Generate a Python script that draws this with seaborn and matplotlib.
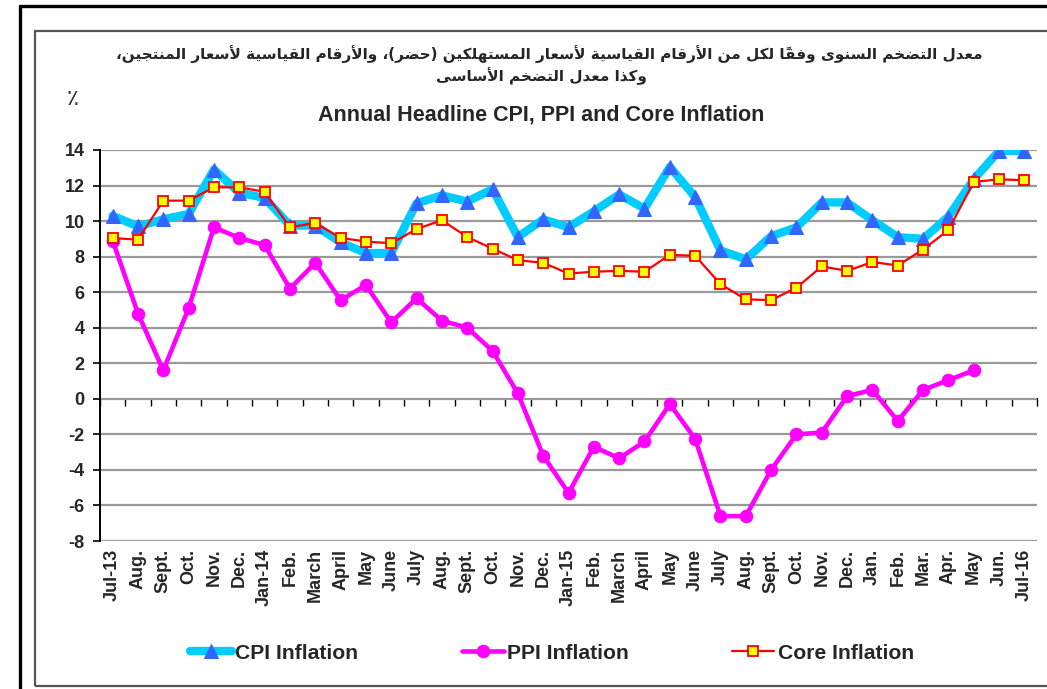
import numpy as np
import pandas as pd
import matplotlib
matplotlib.use('Agg')
import matplotlib.pyplot as plt
import seaborn as sns
from matplotlib.lines import Line2D
from matplotlib.patches import Rectangle

# chart data
months = ['Jul-13', 'Aug.', 'Sept.', 'Oct.', 'Nov.', 'Dec.', 'Jan-14', 'Feb.', 'March', 'April',
          'May', 'June', 'July', 'Aug.', 'Sept.', 'Oct.', 'Nov.', 'Dec.', 'Jan-15', 'Feb.',
          'March', 'April', 'May', 'June', 'July', 'Aug.', 'Sept.', 'Oct.', 'Nov.', 'Dec.',
          'Jan.', 'Feb.', 'Mar.', 'Apr.', 'May', 'Jun.', 'Jul-16']
cpi = [10.3, 9.7, 10.1, 10.4, 12.9, 11.6, 11.3, 9.75, 9.75, 8.8, 8.2, 8.2, 11.0, 11.45, 11.1,
       11.8, 9.1, 10.1, 9.65, 10.55, 11.5, 10.7, 13.05, 11.35, 8.35, 7.85, 9.15, 9.65, 11.05,
       11.05, 10.05, 9.1, 9.0, 10.25, 12.35, 13.95, 13.95]
ppi = [8.9, 4.8, 1.6, 5.1, 9.65, 9.05, 8.65, 6.2, 7.65, 5.55, 6.4, 4.3, 5.65, 4.4, 4.0, 2.7,
       0.3, -3.2, -5.3, -2.7, -3.35, -2.4, -0.3, -2.25, -6.6, -6.6, -4.0, -2.0, -1.9, 0.15,
       0.5, -1.25, 0.5, 1.05, 1.6, np.nan, np.nan]
core = [9.05, 8.95, 11.15, 11.15, 11.9, 11.9, 11.65, 9.65, 9.9, 9.05, 8.85, 8.75, 9.55, 10.05,
        9.1, 8.45, 7.8, 7.65, 7.05, 7.15, 7.2, 7.15, 8.1, 8.05, 6.45, 5.6, 5.55, 6.25, 7.45,
        7.2, 7.7, 7.5, 8.4, 9.5, 12.2, 12.35, 12.3]
yticks = [-8, -6, -4, -2, 0, 2, 4, 6, 8, 10, 12, 14]

title_ar_1 = 'معدل التضخم السنوى وفقاً لكل من الأرقام القياسية لأسعار المستهلكين (حضر)، والأرقام القياسية لأسعار المنتجين،'
title_ar_2 = 'وكذا معدل التضخم الأساسى'
title_en = 'Annual Headline CPI, PPI and Core Inflation'

# --- minimal Arabic shaping (matplotlib does no joining / bidi) ---
FORMS = {  # isolated, final, (initial, medial)
    'ا': (0xFE8D, 0xFE8E), 'أ': (0xFE83, 0xFE84), 'ة': (0xFE93, 0xFE94),
    'د': (0xFEA9, 0xFEAA), 'ذ': (0xFEAB, 0xFEAC), 'ر': (0xFEAD, 0xFEAE),
    'و': (0xFEED, 0xFEEE), 'ى': (0xFEEF, 0xFEF0),
    'ت': (0xFE95, 0xFE96, 0xFE97, 0xFE98), 'ج': (0xFE9D, 0xFE9E, 0xFE9F, 0xFEA0),
    'ح': (0xFEA1, 0xFEA2, 0xFEA3, 0xFEA4), 'خ': (0xFEA5, 0xFEA6, 0xFEA7, 0xFEA8),
    'س': (0xFEB1, 0xFEB2, 0xFEB3, 0xFEB4), 'ض': (0xFEBD, 0xFEBE, 0xFEBF, 0xFEC0),
    'ع': (0xFEC9, 0xFECA, 0xFECB, 0xFECC), 'ف': (0xFED1, 0xFED2, 0xFED3, 0xFED4),
    'ق': (0xFED5, 0xFED6, 0xFED7, 0xFED8), 'ك': (0xFED9, 0xFEDA, 0xFEDB, 0xFEDC),
    'ل': (0xFEDD, 0xFEDE, 0xFEDF, 0xFEE0), 'م': (0xFEE1, 0xFEE2, 0xFEE3, 0xFEE4),
    'ن': (0xFEE5, 0xFEE6, 0xFEE7, 0xFEE8), 'ه': (0xFEE9, 0xFEEA, 0xFEEB, 0xFEEC),
    'ي': (0xFEF1, 0xFEF2, 0xFEF3, 0xFEF4),
}
LAM_ALEF = {'ا': (0xFEFB, 0xFEFC), 'أ': (0xFEF7, 0xFEF8)}
MARKS = {'\u064B'}
MIRROR = {'(': ')', ')': '('}


def shape_arabic(text):
    chars = list(text)
    n = len(chars)

    def neighbour(i, step):
        j = i + step
        while 0 <= j < n and chars[j] in MARKS:
            j += step
        return chars[j] if 0 <= j < n else None

    clusters = []
    i = 0
    while i < n:
        c = chars[i]
        if c in MARKS:
            clusters[-1] += c
            i += 1
            continue
        if c not in FORMS:
            clusters.append(MIRROR.get(c, c))
            i += 1
            continue
        p = neighbour(i, -1)
        joins_prev = p in FORMS and len(FORMS[p]) == 4
        nxt = neighbour(i, 1)
        if c == 'ل' and nxt in LAM_ALEF:
            clusters.append(chr(LAM_ALEF[nxt][1 if joins_prev else 0]))
            i += 1
            while chars[i] in MARKS or chars[i] != nxt:
                i += 1
            i += 1
            continue
        joins_next = len(FORMS[c]) == 4 and nxt in FORMS
        f = FORMS[c]
        if joins_prev and joins_next:
            g = f[3]
        elif joins_prev:
            g = f[1]
        elif joins_next:
            g = f[2]
        else:
            g = f[0]
        clusters.append(chr(g))
        i += 1
    return ''.join(reversed(clusters))


sns.set_style('white')
plt.rcParams['font.family'] = ['Liberation Sans', 'DejaVu Sans']

x = np.arange(len(months))
df = pd.DataFrame({'pos': x, 'CPI Inflation': cpi, 'PPI Inflation': ppi, 'Core Inflation': core})

fig = plt.figure(figsize=(10.47, 6.89), dpi=100)
ax = fig.add_axes([0.0955, 0.2148, 0.895, 0.5675])

sns.lineplot(data=df, x='pos', y='CPI Inflation', ax=ax, color='#00CCFF', lw=6,
             marker='^', markersize=10, markerfacecolor='#3366FF', markeredgecolor='#3366FF',
             label='CPI Inflation', legend=False)
sns.lineplot(data=df.dropna(), x='pos', y='PPI Inflation', ax=ax, color='#FF00FF', lw=3.3,
             marker='o', markersize=9, markerfacecolor='#FF00FF', markeredgecolor='#FF00FF',
             label='PPI Inflation', legend=False)
sns.lineplot(data=df, x='pos', y='Core Inflation', ax=ax, color='#FF0000', lw=1.6,
             marker='s', markersize=7, markerfacecolor='#FFFF00', markeredgecolor='#FF0000',
             markeredgewidth=1.3, label='Core Inflation', legend=False)

ax.set_xlim(-0.5, len(months) - 0.5)
ax.set_ylim(-8, 14)
ax.set_yticks(yticks)
ax.set_xticks(x)
ax.set_xticklabels(months, rotation=90, fontsize=13, fontweight='bold', va='top')
ax.set_yticklabels([str(v) for v in yticks], fontsize=13, fontweight='bold')
ax.set_xlabel('')
ax.set_ylabel('')
ax.yaxis.grid(True, color='#999999', lw=1.6)
ax.xaxis.grid(False)
ax.set_axisbelow(True)
for s in ['top', 'right', 'bottom']:
    ax.spines[s].set_visible(False)
ax.spines['left'].set_color('black')
ax.spines['left'].set_linewidth(1.4)
ax.tick_params(axis='y', left=True, direction='out', length=5, width=1.2, color='black', pad=6)
ax.tick_params(axis='x', bottom=False, pad=2)

# category axis crossing at zero with boundary ticks
sec = ax.secondary_xaxis(0, transform=ax.transData)
sec.set_xticks(np.arange(-0.5, len(months), 1.0))
sec.tick_params(axis='x', direction='out', length=5, width=1, color='black', labelbottom=False)
sec.spines['bottom'].set_linewidth(1.4)
sec.spines['bottom'].set_color('black')

# titles
fig.text(0.525, 0.921, shape_arabic(title_ar_1), ha='center', va='center', fontsize=11,
         fontweight='bold', family=['DejaVu Sans'])
fig.text(0.517, 0.890, shape_arabic(title_ar_2), ha='center', va='center', fontsize=11,
         fontweight='bold', family=['DejaVu Sans'])
fig.text(0.517, 0.833, title_en, ha='center', va='center', fontsize=15.5, fontweight='bold')
fig.text(0.069, 0.857, '٪', ha='center', va='center', fontsize=16, family=['DejaVu Sans'])

# legend
handles, labels = ax.get_legend_handles_labels()
fig.legend(handles, labels, loc='center', bbox_to_anchor=(0.527, 0.052), ncol=3, frameon=False,
           prop={'weight': 'bold', 'size': 15.2}, handlelength=2.0, handletextpad=0.15,
           columnspacing=4.9)

# outer and inner frames
fig.add_artist(Line2D([0.0191, 1.0], [0.9913, 0.9913], color='black', lw=2.4,
                      transform=fig.transFigure))
fig.add_artist(Line2D([0.0191, 0.0191], [0.0, 0.9913], color='black', lw=2.4,
                      transform=fig.transFigure))
fig.add_artist(Rectangle((0.0334, 0.0044), 1.0, 0.951, fill=False, ec='#555555', lw=1.6,
                         transform=fig.transFigure))

fig.savefig('out.png', dpi=100)
